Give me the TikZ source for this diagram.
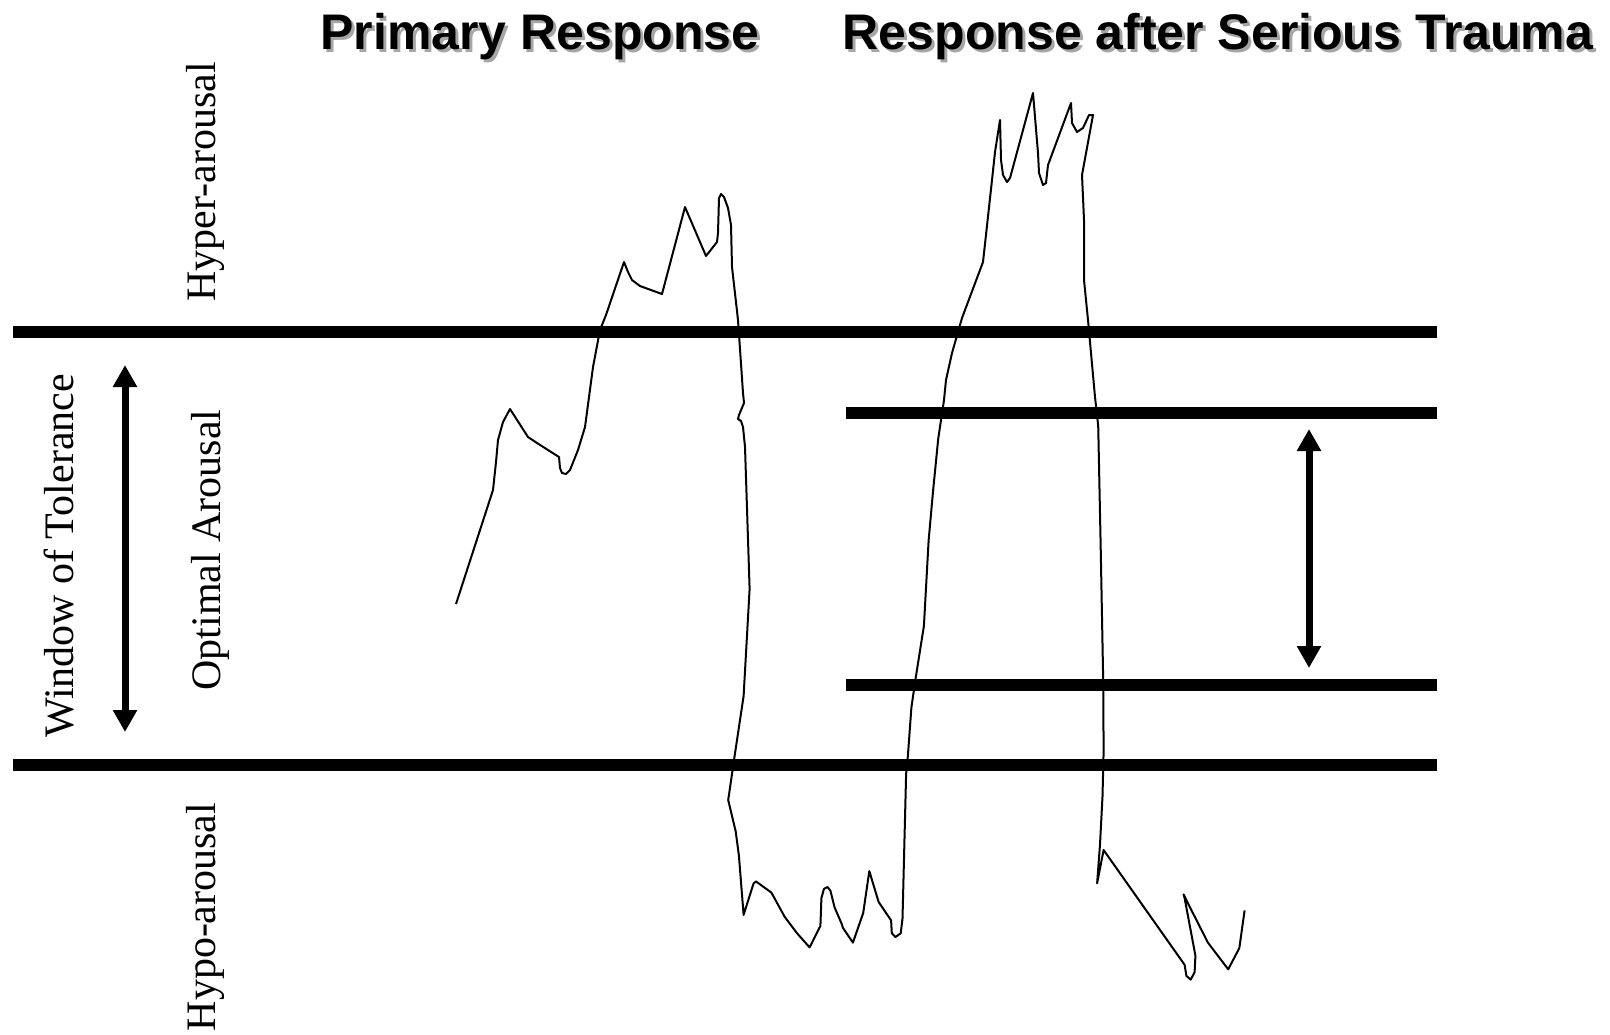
\documentclass[tikz,border=0pt]{standalone}
\usepackage{fontspec}
\setmainfont{Liberation Serif}
\setsansfont{Liberation Sans}
\usetikzlibrary{arrows.meta}

\begin{document}
\begin{tikzpicture}[
    x=0.5pt,y=-0.5pt,
    band/.style={line width=5.6pt},
    trace/.style={line width=1pt,line join=round},
    span arrow/.style={line width=3.5pt,
      {Triangle[length=11pt,width=11.5pt]}-{Triangle[length=11pt,width=11.5pt]}},
    heading/.style={font=\sffamily\bfseries\fontsize{25}{30}\selectfont,
      anchor=base,inner sep=0pt},
    heading shadow/.style={heading,text=black!35},
    zone/.style={font=\fontsize{21}{25}\selectfont,rotate=90,inner sep=0pt}
  ]
  \useasboundingbox (0,0) rectangle (1610,1034);
  % titles
  \node[heading shadow] (priS) at (543,52) {Primary Response};
  \node[heading] (pri) at (540,49) {Primary Response};
  \node[heading shadow] (sevS) at (1221,52) {Response after Serious Trauma};
  \node[heading] (sev) at (1218,49) {Response after Serious Trauma};
  % labels of the zones
  \node[zone] (hyper) at (205,182) {Hyper-arousal};
  \node[zone] (optimal) at (210,550) {Optimal Arousal};
  \node[zone] (hypo) at (205,917) {Hypo-arousal};
  \node[zone] (window) at (59,556) {Window of Tolerance};
  % limits of the window
  \coordinate (hiL) at (13,332);   \coordinate (hiR) at (1437,332);
  \coordinate (loL) at (13,765);   \coordinate (loR) at (1437,765);
  \coordinate (nhiL) at (846,413); \coordinate (nhiR) at (1437,413);
  \coordinate (nloL) at (846,685); \coordinate (nloR) at (1437,685);
  \foreach \lim in {hi,lo,nhi,nlo}
    \draw[band] (\lim L) -- (\lim R);
  % widths of the window
  \coordinate (tolTop) at (125,365); \coordinate (tolBot) at (125,732);
  \coordinate (narTop) at (1309,429); \coordinate (narBot) at (1309,668);
  \draw[span arrow] (tolTop) -- (tolBot);
  \draw[span arrow] (narTop) -- (narBot);
  % arousal trace
  \draw[trace] plot coordinates {
    (456,604) (493,490) (496,462) (498,440) (503,422) (510,409) (528,437)
    (537,443) (559,457) (560,468) (562,473) (566,474) (570,470) (578,450)
    (585,427) (593,367) (600,330) (606,315) (624,262) (628,272) (632,280)
    (640,286) (662,294) (685,207) (706,256) (717,242) (718,233) (719,198)
    (721,194) (724,197) (728,208) (731,225) (732,267) (738,320) (743,393)
    (744,403) (739,415) (738,419) (741,421) (743,427) (745,447) (749.6,589)
    (743.6,696) (734.6,756) (728.2,800) (735.7,831.5) (738.9,855.6)
    (743.6,914.8) (753.6,883.3) (756.1,881.5) (771.4,892.6) (784.6,916.7)
    (797.1,933.3) (809.6,947.4) (820.4,925.9) (821.4,898.1) (823.9,888.9)
    (827.5,887) (830.4,890.7) (834.6,907.4) (841.8,924.1) (842.9,927.8)
    (852.9,942.6) (863.2,913) (869.3,871.1) (878.6,901.9) (891.1,920.4)
    (891.8,933.3) (895.4,937) (900.7,933.3) (902.5,918.5) (906.1,774.1)
    (907.9,755.6) (911.4,707.4) (915.7,677.8) (923.9,625.9) (928.6,540.7)
    (932.9,492.6) (938.2,438.9) (944,400) (946,380) (952,353) (962,318)
    (983,262) (992,180) (995,152) (1000,120) (1001,160) (1003,175)
    (1007,182) (1010,178) (1013,167) (1033,93) (1038,153) (1039,173)
    (1043,185) (1046,183) (1048,165) (1071,103) (1072,123) (1077,132)
    (1083,128) (1089,115) (1093,115) (1082,175) (1084,220) (1084,280)
    (1088,320) (1095,397) (1098.2,425.9) (1100.7,548.1) (1103.2,681.5)
    (1103.6,751.9) (1102.5,796.3) (1100,844.4) (1097.1,883.3) (1103.6,850)
    (1184.6,964.8) (1186.4,975.9) (1190.7,979.6) (1194.6,972.2)
    (1195.4,955.6) (1184.6,898.1) (1183.6,894.4) (1190,907.4)
    (1207.9,942.6) (1228.2,969.3) (1239.3,948.1) (1244.6,910.4)};
\end{tikzpicture}
\end{document}
